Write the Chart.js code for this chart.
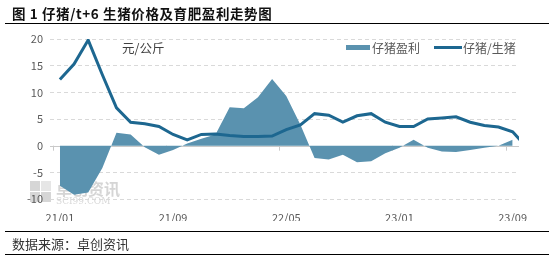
<!DOCTYPE html>
<html><head><meta charset="utf-8">
<script src="https://cdn.jsdelivr.net/npm/chart.js@4"></script>
<style>
html,body{margin:0;padding:0;background:#fff;}
#wrap{position:relative;width:553px;height:257px;overflow:hidden;font-family:"Noto Sans CJK SC","Noto Sans",sans-serif;}
#title{position:absolute;left:12px;top:3px;font-size:13.5px;font-weight:bold;color:#111;white-space:nowrap;letter-spacing:0.6px;}
.hl{position:absolute;left:5px;width:544px;height:0;border-top:1.5px solid #000;}
#src{position:absolute;left:12px;top:234px;font-size:13px;color:#333;white-space:nowrap;}
#unit{position:absolute;left:122px;top:38px;font-size:12.5px;color:#404040;white-space:nowrap;}
.lg{position:absolute;top:39px;font-size:12px;color:#595959;white-space:nowrap;}
.sw{position:absolute;}
canvas{position:absolute;left:0;top:0;}
</style></head>
<body><div id="wrap">
<canvas id="c" width="553" height="257"></canvas>
<div id="title">图 1 仔猪/t+6 生猪价格及育肥盈利走势图</div>
<div class="hl" style="top:23px"></div>
<div class="hl" style="top:231px"></div>
<div class="hl" style="top:254px"></div>
<div id="src">数据来源：卓创资讯</div>
<div id="unit">元/公斤</div>
<div class="sw" style="left:346px;top:45px;width:24px;height:5px;background:#5a92af"></div>
<div class="lg" style="left:372px">仔猪盈利</div>
<div class="sw" style="left:434px;top:46px;width:28px;height:3px;background:#1d6790"></div>
<div class="lg" style="left:463px">仔猪/生猪</div>
</div>
<script>
// month index 0 = 21/01 ... 32 = 23/09
const tickLabels = ["21/01","21/09","22/05","23/01","23/09"];
const tickIndex = [0,8,16,24,32];
const profit = [-7.5,-9.2,-8.8,-4.2,2.4,2.1,-0.3,-1.7,-0.8,0.4,1.3,2.1,7.2,7.0,9.1,12.5,9.3,3.9,-2.3,-2.6,-1.7,-3.1,-2.9,-1.4,-0.4,1.1,-0.4,-1.1,-1.2,-0.8,-0.4,0.0,1.1];
const ratio = [12.4,15.3,19.8,13.3,7.1,4.4,4.1,3.6,2.1,1.1,2.1,2.2,1.9,1.7,1.7,1.8,3.0,3.9,6.0,5.7,4.4,5.6,6.0,4.4,3.6,3.6,5.0,5.2,5.4,4.4,3.8,3.5,2.6,-0.3];

const AREA = '#5a92af', LINE = '#1d6790';
const toXY = arr => arr.map((v,i)=>({x:i,y:v}));

const decor = {
  id:'decor',
  beforeDraw(ch){
    const ctx = ch.ctx;
    ctx.save();
    ctx.fillStyle = '#d6d6d6';
    ctx.fillRect(30,181,10,10); ctx.fillRect(30,192,10,10); ctx.fillRect(41,192,10,10);
    ctx.fillStyle = '#e6e6e6'; ctx.fillRect(41,181,10,10);
    ctx.font = 'bold 16px "Noto Sans CJK SC"'; ctx.fillStyle='#d5d5d5';
    ctx.fillText('卓创资讯', 56, 195);
    ctx.font = '9px "DejaVu Serif"'; ctx.fillStyle='#d8d8d8';
    ctx.fillText('SCI99.COM', 56, 204);
    ctx.restore();
  },
  beforeDatasetsDraw(ch){
    const {ctx, chartArea:a, scales:{x,y}} = ch;
    const y0 = y.getPixelForValue(0);
    ctx.save();
    ctx.strokeStyle = '#c9c9c9'; ctx.lineWidth = 1;
    ctx.beginPath(); ctx.moveTo(a.left, Math.round(y0)+0.5); ctx.lineTo(a.right, Math.round(y0)+0.5); ctx.stroke();
    ctx.beginPath();
    tickIndex.forEach(t=>{
      const px = Math.round(x.getPixelForValue(t-0.5))+0.5;
      if (px>=a.left && px<=a.right){ ctx.moveTo(px, y0); ctx.lineTo(px, y0+5); }
    });
    ctx.stroke();
    ctx.restore();
  }
};

new Chart(document.getElementById('c'), {
  type:'line',
  data:{datasets:[
    {label:'仔猪/生猪', data:toXY(ratio), borderColor:LINE, borderWidth:3, pointRadius:0, fill:false, tension:0, order:0},
    {label:'仔猪盈利', data:toXY(profit), backgroundColor:AREA, borderColor:AREA, borderWidth:0, pointRadius:0, fill:'origin', tension:0, order:1}
  ]},
  options:{
    responsive:false, animation:false, devicePixelRatio:1,
    layout:{padding:{left:0,right:34,top:39,bottom:36}},
    plugins:{legend:{display:false}, tooltip:{enabled:false}},
    scales:{
      x:{type:'linear', min:-0.7, max:32.45,
        afterBuildTicks(s){ s.ticks = tickIndex.map(v=>({value:v})); },
        afterFit(s){ s.height = 22; },
        ticks:{autoSkip:false, maxRotation:0, padding:4, color:'#595959', font:{size:11, family:'"Noto Sans CJK SC"'},
          callback(v){ const k = tickIndex.indexOf(v); return k>=0 ? tickLabels[k] : ''; }},
        grid:{display:false}, border:{display:false}
      },
      y:{min:-10, max:20,
        afterFit(s){ s.width = 50; },
        ticks:{stepSize:5, padding:7, color:'#595959', font:{size:11, family:'"Noto Sans CJK SC"'}},
        grid:{drawTicks:false, color:c=> c.tick.value===0 ? 'rgba(0,0,0,0)' : '#d9d9d9'},
        border:{display:false, dash:[4,3]}
      }
    }
  },
  plugins:[decor]
});
</script>
</body></html>
